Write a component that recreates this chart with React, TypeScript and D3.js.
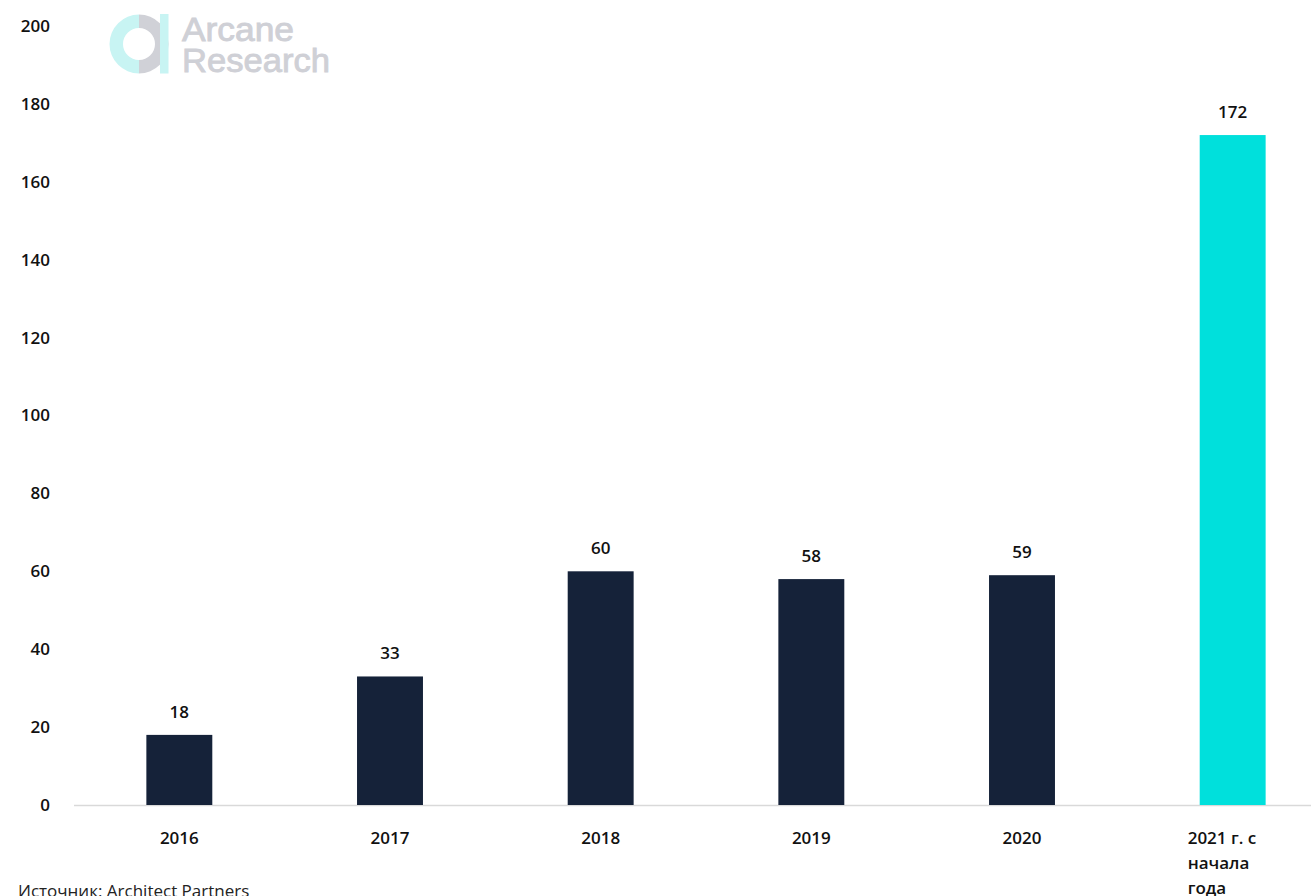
import { useMemo } from 'react'
import * as d3 from 'd3'

// ── data ─────────────────────────────────────────────────────────────────────
const CATEGORIES = ['2016', '2017', '2018', '2019', '2020', '2021 г. с начала года']
const CAT_LINES  = [['2016'], ['2017'], ['2018'], ['2019'], ['2020'], ['2021 г. с', 'начала', 'года']]
const VALUES     = [18, 33, 60, 58, 59, 172]
const Y_TICKS    = [0, 20, 40, 60, 80, 100, 120, 140, 160, 180, 200]
const SOURCE     = 'Источник: Architect Partners'

// ── constants ────────────────────────────────────────────────────────────────
const W       = 1311
const H       = 896
const C_BAR   = '#152239'
const C_HI    = '#00e0dc'
const C_AXIS  = '#d9d9d9'
const C_TEXT  = '#111111'
const FONT    = '"Open Sans", "Noto Sans", sans-serif'

export default function App() {
  const x = useMemo(() =>
    d3.scaleBand<string>().domain(CATEGORIES).range([74, 1338]).paddingInner(0.687).paddingOuter(0.3435),
  [])
  const y = useMemo(() => d3.scaleLinear().domain([0, 200]).range([805, 26]), [])

  const ring = d3.arc()
  const logoCx = 139, logoCy = 44

  return (
    <svg width={W} height={H} viewBox={`0 0 ${W} ${H}`}
      style={{ position: 'absolute', left: 0, top: 0, display: 'block', background: '#fff' }}>
      {/* logo */}
      <g transform={`translate(${logoCx},${logoCy})`}>
        <path fill="#c8f4f3" d={ring({ innerRadius: 16, outerRadius: 29.5, startAngle: Math.PI, endAngle: 2 * Math.PI }) ?? ''} />
        <path fill="#d0d1d7" d={ring({ innerRadius: 16, outerRadius: 29.5, startAngle: 0, endAngle: Math.PI }) ?? ''} />
        <rect x={21} y={-30} width={8.5} height={59.5} fill="#c8f4f3" />
      </g>
      <g fill="#cfd0d6" stroke="#cfd0d6" strokeWidth={0.9}
        fontFamily='"Liberation Sans", Arial, sans-serif' fontSize={34}>
        <text x={182} y={41} textLength={112} lengthAdjust="spacingAndGlyphs">Arcane</text>
        <text x={182} y={72} textLength={148} lengthAdjust="spacingAndGlyphs">Research</text>
      </g>

      {/* y tick labels */}
      <g fontFamily={FONT} fontSize={17} fontWeight={600} fill={C_TEXT} textAnchor="end">
        {Y_TICKS.map(t => (
          <text key={t} x={50} y={y(t)} dy="0.35em">{t}</text>
        ))}
      </g>

      {/* axis line */}
      <line x1={74} x2={W} y1={y(0) + 0.5} y2={y(0) + 0.5} stroke={C_AXIS} strokeWidth={1.5} />

      {/* bars */}
      {CATEGORIES.map((c, i) => (
        <rect key={c}
          x={x(c)!} width={x.bandwidth()}
          y={y(VALUES[i])} height={y(0) - y(VALUES[i])}
          fill={i === CATEGORIES.length - 1 ? C_HI : C_BAR} />
      ))}

      {/* value labels */}
      <g fontFamily={FONT} fontSize={17} fontWeight={600} fill={C_TEXT} textAnchor="middle">
        {CATEGORIES.map((c, i) => (
          <text key={c} x={x(c)! + x.bandwidth() / 2} y={y(VALUES[i]) - 17}>{VALUES[i]}</text>
        ))}
      </g>

      {/* category labels */}
      <g fontFamily={FONT} fontSize={17} fontWeight={600} fill={C_TEXT}>
        {CATEGORIES.map((c, i) => {
          const cx = x(c)! + x.bandwidth() / 2
          const lines = CAT_LINES[i]
          if (lines.length === 1) {
            return <text key={c} x={cx} y={844} textAnchor="middle">{lines[0]}</text>
          }
          return (
            <text key={c} x={cx - 45} y={844}>
              {lines.map((l, j) => <tspan key={j} x={cx - 45} dy={j === 0 ? 0 : 25}>{l}</tspan>)}
            </text>
          )
        })}
      </g>

      {/* source */}
      <text x={18} y={897} fontFamily={FONT} fontSize={17} fill="#222">{SOURCE}</text>
    </svg>
  )
}
